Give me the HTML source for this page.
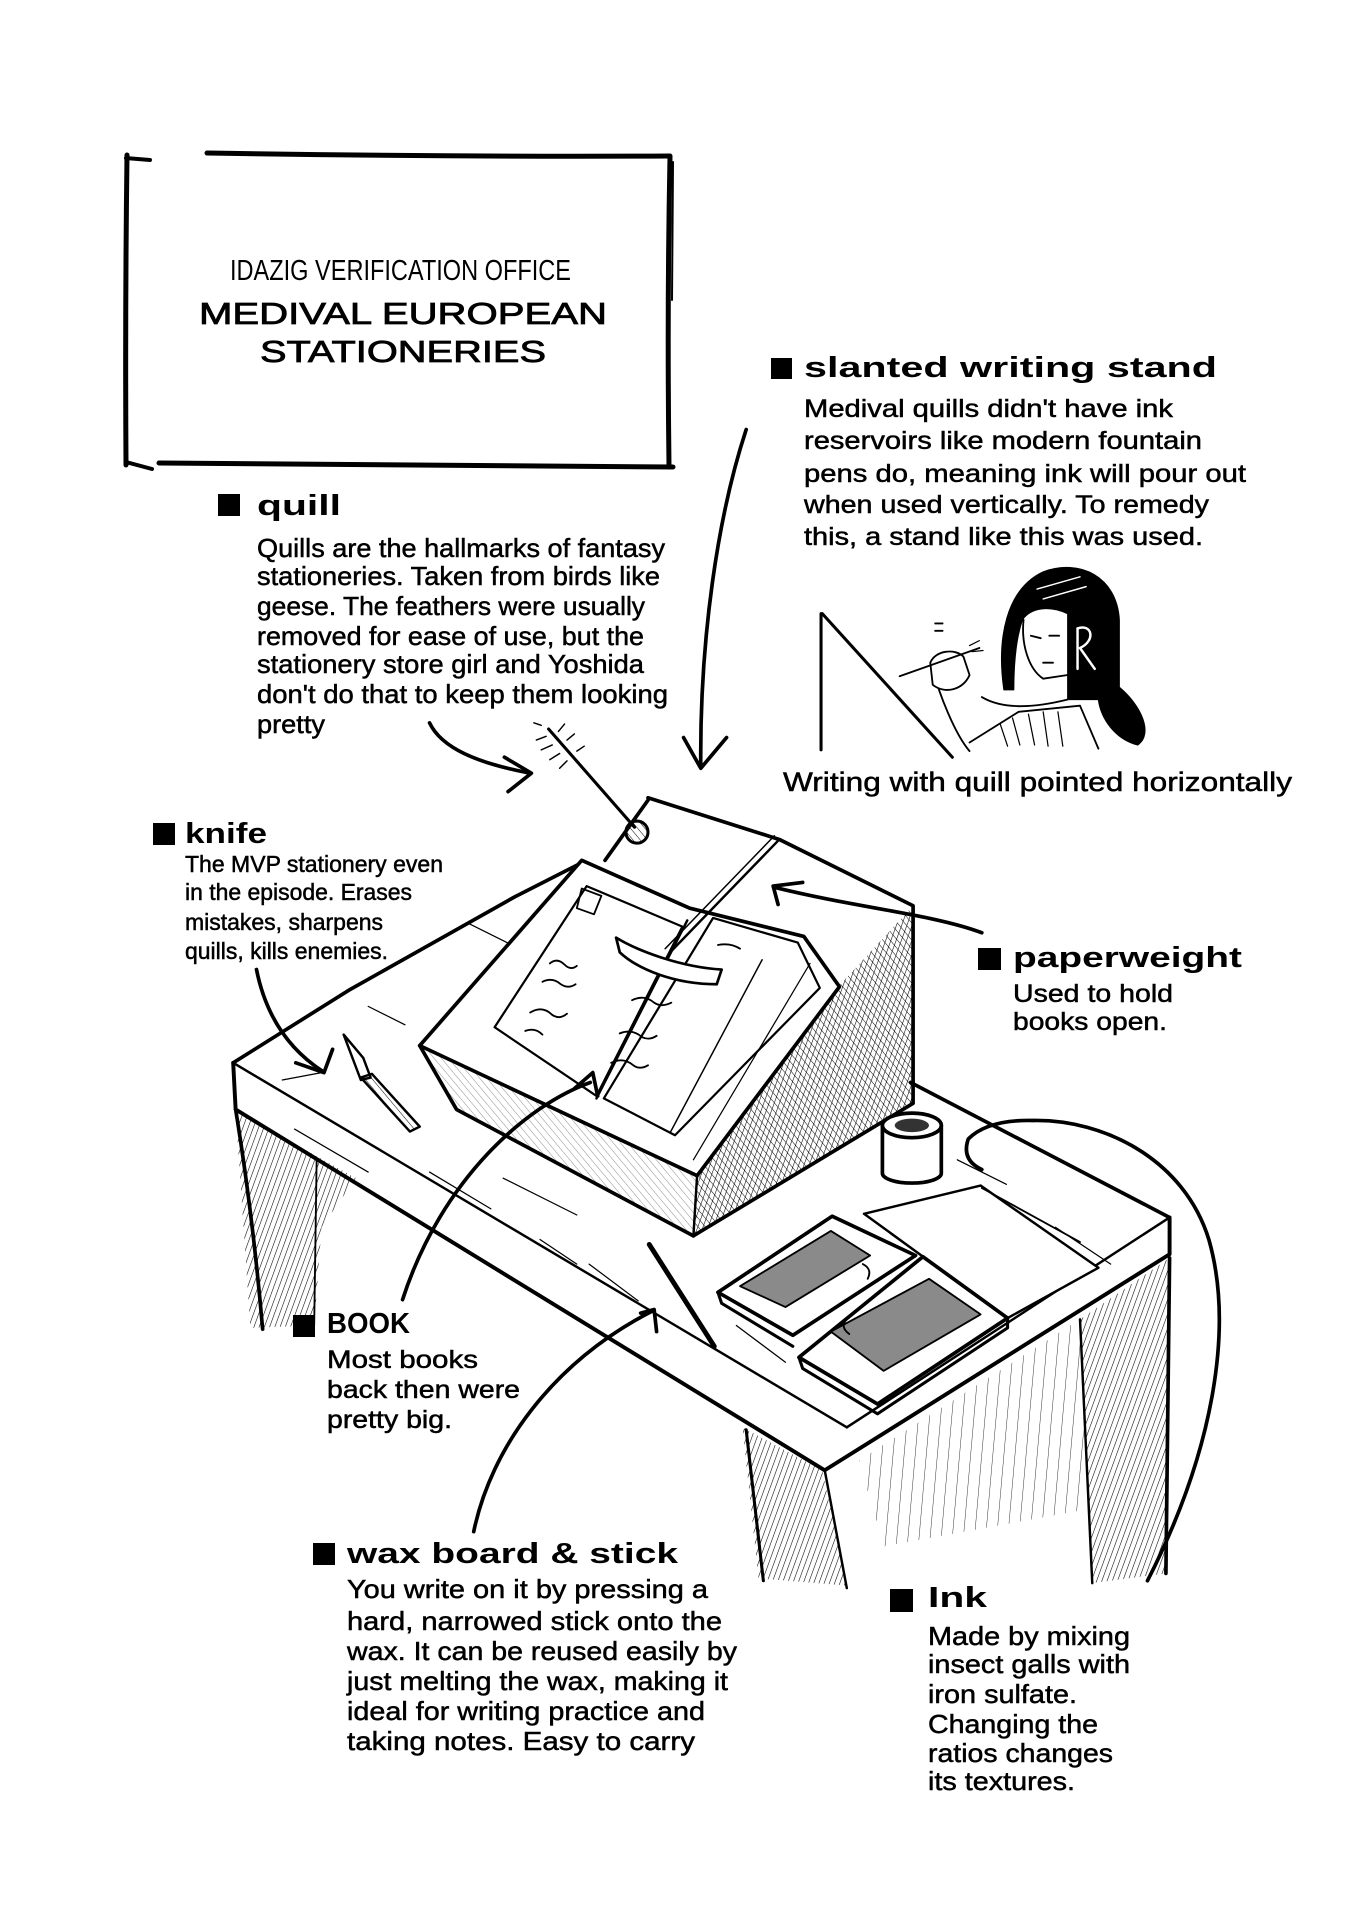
<!DOCTYPE html>
<html><head><meta charset="utf-8"><style>html,body{margin:0;padding:0;background:#fff}svg{display:block}</style></head>
<body>
<svg width="1350" height="1920" viewBox="0 0 1350 1920" xmlns="http://www.w3.org/2000/svg">
<defs>
<pattern id="h1" width="4" height="4" patternUnits="userSpaceOnUse" patternTransform="rotate(20)"><line x1="0" y1="0" x2="0" y2="4" stroke="#000" stroke-width="0.9"/></pattern>
<pattern id="h2" width="4.5" height="4.5" patternUnits="userSpaceOnUse" patternTransform="rotate(-40)"><line x1="0" y1="0" x2="0" y2="4.5" stroke="#000" stroke-width="0.8"/></pattern>
<pattern id="h3" width="9" height="9" patternUnits="userSpaceOnUse" patternTransform="rotate(5)"><line x1="0" y1="0" x2="0" y2="9" stroke="#000" stroke-width="0.8"/></pattern>
</defs>
<rect width="1350" height="1920" fill="#fff"/>

<!-- title box -->
<g fill="none" stroke="#000" stroke-linecap="round" stroke-width="5">
<path d="M127,155 Q125,310 126,465"/>
<path d="M207,153 Q440,157 670,156"/>
<path d="M126,158 L150,160" stroke-width="4"/>
<path d="M670,157 Q667,310 669,466"/>
<path d="M673,162 L672,300" stroke-width="2"/>
<path d="M159,463 Q420,466 673,467"/>
<path d="M126,462 L152,469" stroke-width="4"/>
</g>
<g font-family="'Liberation Sans', sans-serif" fill="#000">
<text x="230" y="280" font-size="29" textLength="341" lengthAdjust="spacingAndGlyphs">IDAZIG VERIFICATION OFFICE</text>
<text x="199" y="324" font-size="31" stroke="#000" stroke-width="0.8" textLength="408" lengthAdjust="spacingAndGlyphs">MEDIVAL EUROPEAN</text>
<text x="260" y="362" font-size="31" stroke="#000" stroke-width="0.8" textLength="286" lengthAdjust="spacingAndGlyphs">STATIONERIES</text>
</g>

<!-- drawing (display coords) -->
<g transform="scale(1.22727)" fill="none" stroke="#000" stroke-linecap="round" stroke-linejoin="round">
<!-- legs -->
<polygon points="192,905 290,960 262,1000 256,1080 204,1082" fill="url(#h1)" stroke="none"/>
<path d="M192,904 Q206,990 214,1083" stroke-width="3"/>
<path d="M258,945 L256,1080" stroke-width="1.5"/>
<polygon points="605,1163 670,1198 690,1292 618,1286" fill="url(#h1)" stroke="none"/>
<path d="M608,1165 L622,1288" stroke-width="2.5"/>
<path d="M672,1198 L690,1294" stroke-width="2"/>
<polygon points="700,1190 880,1075 885,1230 720,1260" fill="url(#h3)" stroke="none" opacity="0.8"/>
<polygon points="880,1075 953,1025 950,1282 890,1290" fill="url(#h1)" stroke="none"/>
<path d="M880,1075 L890,1290" stroke-width="2"/>
<path d="M953,1025 L950,1282" stroke-width="3"/>

<!-- desk top -->
<path d="M190,866 L284,807 L419,731 L474,703" stroke-width="3"/>
<path d="M190,866 L690,1163" stroke-width="2"/>
<path d="M190,866 L192,904 L672,1198 L953,1022 L953,992" stroke-width="3.2"/>
<path d="M690,1163 L953,992" stroke-width="2"/>
<path d="M742,882 L953,992" stroke-width="3"/>
<g stroke-width="1">
<path d="M381,752 L419,771"/><path d="M230,880 L262,874"/><path d="M300,820 L330,835"/>
<path d="M410,960 L470,990"/><path d="M240,920 L300,955"/><path d="M780,945 L820,965"/>
<path d="M860,1000 L905,1030"/><path d="M600,1080 L640,1110"/><path d="M480,1030 L520,1060"/>
<path d="M350,955 L400,985"/><path d="M440,1010 L470,1030"/>
</g>

<!-- stand -->
<polygon points="683,804 744,738 744,899 565,1007 568,958" fill="url(#h1)" stroke="none"/>
<polygon points="683,804 744,738 744,899 565,1007 568,958" fill="url(#h2)" stroke="none"/>
<polygon points="342,852 568,958 565,1007 372,904" fill="url(#h2)" stroke="none" opacity="0.45"/>
<path d="M528,650 L635,684 L744,738 L744,899 L565,1007" stroke-width="3"/>
<path d="M528,652 L493,701" stroke-width="3"/>
<path d="M342,852 L372,904 L565,1007" stroke-width="3"/>
<path d="M568,958 L565,1007" stroke-width="2"/>

<!-- book -->
<polygon points="474,701 562,740 655,763 684,804 568,958 342,852" fill="#fff" stroke-width="3"/>
<polygon points="478,722 556,755 486,893 403,837" fill="#fff" stroke-width="1.8"/>
<polygon points="581,748 650,768 668,805 550,925 492,895" fill="#fff" stroke-width="1.8"/>
<path d="M560,750 L486,895" stroke-width="2"/>
<path d="M621,782 L546,923" stroke-width="1.2"/>
<path d="M660,785 L565,945" stroke-width="1"/>
<path d="M474,724 L490,730 L484,745 L470,740 Z" stroke-width="1.5"/>
<g stroke-width="1.5">
<path d="M448,785 q6,-5 12,1 q5,5 10,1"/><path d="M442,800 q8,-4 15,2 q6,4 12,0"/>
<path d="M432,825 q10,-6 18,2 q6,4 12,-1"/><path d="M428,840 q8,-3 14,3"/>
<path d="M515,815 q10,-5 18,2 q6,4 14,0"/><path d="M505,842 q10,-4 18,3 q6,3 12,-1"/>
<path d="M498,866 q10,-5 18,2 q5,4 12,0"/><path d="M585,770 q10,-2 18,3"/>
</g>

<!-- quill & paperweight -->
<path d="M447,594 L517,674" stroke-width="2.5"/>
<g stroke-width="1.2">
<path d="M445,600 l-8,3"/><path d="M450,607 l-9,4"/><path d="M456,614 l-8,5"/><path d="M462,620 l-6,6"/>
<path d="M455,596 l5,-6"/><path d="M462,603 l6,-5"/><path d="M470,612 l6,-4"/><path d="M441,591 l-6,-2"/>
</g>
<circle cx="519" cy="678" r="9" fill="url(#h2)" stroke-width="2.5"/>
<path d="M635,684 L546,776" stroke-width="2"/>
<path d="M631,681 L542,773" stroke-width="1.2"/>
<path d="M502,764 C520,775 555,788 588,790 L584,802 C550,802 520,790 505,776 Z" fill="#fff" stroke-width="2.2"/>

<!-- knife -->
<path d="M280,843 L296,862 L302,878 L294,880 Z" fill="#fff" stroke-width="2"/>
<path d="M294,878 L303,875 L342,918 L334,922 Z" fill="url(#h2)" stroke-width="2"/>

<!-- wax stick -->
<path d="M529,1014 L582,1097" stroke-width="4"/>

<!-- wax boards -->
<polygon points="704,989 799,966 895,1033 821,1074" fill="#fff" stroke-width="2"/>
<path d="M800,968 L880,1012" stroke-width="1.5"/>
<polygon points="585,1053 678,991 746,1023 646,1088" fill="#fff" stroke-width="3"/>
<polygon points="603,1048 677,1003 709,1023 640,1065" fill="#8a8a8a" stroke-width="1.5"/>
<polygon points="651,1106 752,1024 821,1074 715,1144" fill="#fff" stroke-width="3"/>
<polygon points="677,1085 757,1042 799,1071 720,1117" fill="#8a8a8a" stroke-width="1.5"/>
<path d="M585,1053 L588,1062 L646,1097" stroke-width="2.5"/>
<path d="M651,1106 L654,1115 L715,1152 L821,1082 L821,1074" stroke-width="2.5"/>
<path d="M703,1030 q8,4 4,12" stroke-width="1.5"/><path d="M690,1075 q-6,6 2,12" stroke-width="1.5"/>

<!-- ink pot -->
<path d="M719,917 L719,956 A24,8 0 0 0 767,956 L767,917" fill="#fff" stroke-width="3"/>
<ellipse cx="743" cy="917" rx="24" ry="10" fill="#fff" stroke-width="3"/>
<ellipse cx="743" cy="917" rx="14" ry="5.5" fill="#333" stroke="none"/>

<!-- arrows -->
<g stroke-width="3">
<path d="M350,589 C360,610 390,622 432,630"/><path d="M411,617 L433,630 L414,645"/>
<path d="M608,350 C585,420 570,520 571,625"/><path d="M557,601 L571,626 L592,601"/>
<path d="M800,760 C760,745 700,740 631,723"/><path d="M654,719 L630,722 L634,737"/>
<path d="M209,790 Q220,845 263,873"/><path d="M241,866 L264,874 L271,855"/>
<path d="M328,1059 C360,960 430,900 481,882"/><path d="M468,887 L483,874 L487,893"/>
<path d="M386,1248 C400,1180 450,1110 532,1068"/><path d="M522,1070 L533,1067 L535,1085"/>
<path d="M800,953 Q783,945 789,928 Q805,912 842,913 C900,912 965,945 985,1010 C1005,1080 990,1180 935,1288"/>
</g>

<!-- girl figure -->
<path d="M669,500 L669,611" stroke-width="2.5"/>
<path d="M670,500 L776,617" stroke-width="2.5"/>
<path d="M818,562 C812,520 820,480 850,466 C880,455 910,470 912,505 L912,560 C930,575 940,598 927,607 C908,602 897,585 895,570 L870,570 L870,500 C855,493 840,495 833,505 C828,520 826,540 826,562 Z" fill="#000" stroke-width="1"/>
<path d="M878,512 L878,545 M878,512 C890,508 893,522 880,528 L892,545" stroke="#fff" stroke-width="2"/>
<path d="M845,480 L880,470 M850,488 L885,478" stroke="#fff" stroke-width="1.2"/>
<path d="M834,505 C832,525 838,545 850,553 L870,550" stroke-width="1.5"/>
<path d="M840,518 l8,2 M855,518 l8,0 M850,540 l8,0" stroke-width="1.5"/>
<path d="M800,568 C820,580 850,575 870,570" stroke-width="1.5"/>
<path d="M790,605 L830,580 L880,575 L895,610" stroke-width="1.5"/>
<path d="M815,590 l6,18 M825,585 l6,22 M838,582 l5,25 M850,580 l4,28 M862,580 l4,28" stroke-width="1"/>
<path d="M760,545 C765,565 778,598 790,612" stroke-width="1.5"/>
<path d="M758,540 C762,530 778,528 785,535 L790,550 C785,562 770,566 760,558 Z" fill="#fff" stroke-width="1.5"/>
<path d="M733,551 L798,528" stroke-width="1.5"/>
<path d="M790,526 l8,-4 M792,531 l9,-1" stroke-width="1"/>
<path d="M762,508 L768,508 M762,514 L768,514" stroke-width="1.5"/>
</g>

<!-- labels -->
<g fill="#000">
<rect x="771" y="358" width="21" height="21"/>
<rect x="218" y="494" width="22" height="22"/>
<rect x="153" y="823" width="22" height="22"/>
<rect x="978" y="948" width="23" height="22"/>
<rect x="293" y="1315" width="22" height="22"/>
<rect x="313" y="1543" width="22" height="22"/>
<rect x="890" y="1589" width="23" height="23"/>
</g>
<g font-family="'Liberation Sans', sans-serif" font-weight="bold" fill="#000" font-size="29">
<text x="804" y="377" textLength="413" lengthAdjust="spacingAndGlyphs">slanted writing stand</text>
<text x="257" y="515" textLength="84" lengthAdjust="spacingAndGlyphs">quill</text>
<text x="185" y="843" textLength="82" lengthAdjust="spacingAndGlyphs">knife</text>
<text x="1013" y="967" textLength="229" lengthAdjust="spacingAndGlyphs">paperweight</text>
<text x="327" y="1333" textLength="83" lengthAdjust="spacingAndGlyphs">BOOK</text>
<text x="347" y="1563" textLength="331" lengthAdjust="spacingAndGlyphs">wax board &amp; stick</text>
<text x="928" y="1607" textLength="59" lengthAdjust="spacingAndGlyphs">Ink</text>
</g>
<g font-family="'Liberation Sans', sans-serif" fill="#000" stroke="#000" stroke-width="0.5" font-size="25">
<text x="804" y="417" textLength="369" lengthAdjust="spacingAndGlyphs">Medival quills didn't have ink</text>
<text x="804" y="449" textLength="398" lengthAdjust="spacingAndGlyphs">reservoirs like modern fountain</text>
<text x="804" y="482" textLength="442" lengthAdjust="spacingAndGlyphs">pens do, meaning ink will pour out</text>
<text x="804" y="513" textLength="405" lengthAdjust="spacingAndGlyphs">when used vertically. To remedy</text>
<text x="804" y="545" textLength="399" lengthAdjust="spacingAndGlyphs">this, a stand like this was used.</text>
<text x="783" y="791" font-size="27" textLength="509" lengthAdjust="spacingAndGlyphs">Writing with quill pointed horizontally</text>

<text x="257" y="557" font-size="26" textLength="408" lengthAdjust="spacingAndGlyphs">Quills are the hallmarks of fantasy</text>
<text x="257" y="585" font-size="26" textLength="403" lengthAdjust="spacingAndGlyphs">stationeries. Taken from birds like</text>
<text x="257" y="615" font-size="26" textLength="388" lengthAdjust="spacingAndGlyphs">geese. The feathers were usually</text>
<text x="257" y="645" font-size="26" textLength="387" lengthAdjust="spacingAndGlyphs">removed for ease of use, but the</text>
<text x="257" y="673" font-size="26" textLength="387" lengthAdjust="spacingAndGlyphs">stationery store girl and Yoshida</text>
<text x="257" y="703" font-size="26" textLength="411" lengthAdjust="spacingAndGlyphs">don't do that to keep them looking</text>
<text x="257" y="733" font-size="26" textLength="68" lengthAdjust="spacingAndGlyphs">pretty</text>

<text x="185" y="872" font-size="23" textLength="258" lengthAdjust="spacingAndGlyphs">The MVP stationery even</text>
<text x="185" y="900" font-size="23" textLength="227" lengthAdjust="spacingAndGlyphs">in the episode. Erases</text>
<text x="185" y="930" font-size="23" textLength="198" lengthAdjust="spacingAndGlyphs">mistakes, sharpens</text>
<text x="185" y="959" font-size="23" textLength="203" lengthAdjust="spacingAndGlyphs">quills, kills enemies.</text>

<text x="1013" y="1002" textLength="160" lengthAdjust="spacingAndGlyphs">Used to hold</text>
<text x="1013" y="1030" textLength="154" lengthAdjust="spacingAndGlyphs">books open.</text>

<text x="327" y="1368" textLength="151" lengthAdjust="spacingAndGlyphs">Most books</text>
<text x="327" y="1398" textLength="193" lengthAdjust="spacingAndGlyphs">back then were</text>
<text x="327" y="1428" textLength="125" lengthAdjust="spacingAndGlyphs">pretty big.</text>

<text x="347" y="1598" font-size="26" textLength="361" lengthAdjust="spacingAndGlyphs">You write on it by pressing a</text>
<text x="347" y="1630" font-size="26" textLength="375" lengthAdjust="spacingAndGlyphs">hard, narrowed stick onto the</text>
<text x="347" y="1660" font-size="26" textLength="390" lengthAdjust="spacingAndGlyphs">wax. It can be reused easily by</text>
<text x="347" y="1690" font-size="26" textLength="381" lengthAdjust="spacingAndGlyphs">just melting the wax, making it</text>
<text x="347" y="1720" font-size="26" textLength="358" lengthAdjust="spacingAndGlyphs">ideal for writing practice and</text>
<text x="347" y="1750" font-size="26" textLength="348" lengthAdjust="spacingAndGlyphs">taking notes. Easy to carry</text>

<text x="928" y="1645" font-size="26" textLength="202" lengthAdjust="spacingAndGlyphs">Made by mixing</text>
<text x="928" y="1673" font-size="26" textLength="202" lengthAdjust="spacingAndGlyphs">insect galls with</text>
<text x="928" y="1703" font-size="26" textLength="149" lengthAdjust="spacingAndGlyphs">iron sulfate.</text>
<text x="928" y="1733" font-size="26" textLength="170" lengthAdjust="spacingAndGlyphs">Changing the</text>
<text x="928" y="1762" font-size="26" textLength="185" lengthAdjust="spacingAndGlyphs">ratios changes</text>
<text x="928" y="1790" font-size="26" textLength="147" lengthAdjust="spacingAndGlyphs">its textures.</text>
</g>
</svg>
</body></html>
